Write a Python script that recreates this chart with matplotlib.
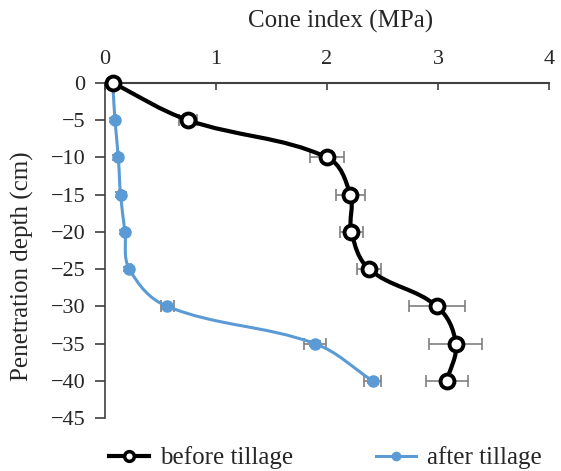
import numpy as np
import matplotlib
matplotlib.use('Agg')
from matplotlib import pyplot as plt
from matplotlib.path import Path
from matplotlib.patches import PathPatch
from matplotlib.lines import Line2D

plt.rcParams['font.family'] = ['Liberation Serif', 'DejaVu Serif']

# data
depth = [0, -5, -10, -15, -20, -25, -30, -35, -40]
before_ci = [0.07, 0.75, 2.00, 2.21, 2.22, 2.38, 2.99, 3.16, 3.08]
before_err = [0.02, 0.08, 0.15, 0.13, 0.10, 0.11, 0.25, 0.24, 0.19]
after_ci = [0.07, 0.09, 0.12, 0.14, 0.18, 0.22, 0.56, 1.89, 2.41]
after_err = [0.01, 0.01, 0.01, 0.01, 0.01, 0.01, 0.06, 0.10, 0.08]
depth_err = 0.5

black = '#000000'
blue = '#5B9BD5'
grey = '#7F7F7F'
text_c = '#262626'

# axes box in pixels: x 105..549, y 83..418
XSCALE = 444 / 4.0   # px per MPa
YSCALE = 335 / 45.0  # px per cm


def smooth_path(xs, ys, k=0.36):
    # smoothed line through the points; tangent = neighbour chord direction,
    # handle length ~ segment length (computed in pixel proportions)
    p = np.column_stack([np.asarray(xs, float) * XSCALE,
                         np.asarray(ys, float) * YSCALE])
    n = len(p)
    tang = []
    for i in range(n):
        d = p[min(i + 1, n - 1)] - p[max(i - 1, 0)]
        tang.append(d / np.hypot(*d))
    verts = [tuple(p[0])]
    codes = [Path.MOVETO]
    for i in range(n - 1):
        L = np.hypot(*(p[i + 1] - p[i]))
        c1 = p[i] + tang[i] * L * k
        c2 = p[i + 1] - tang[i + 1] * L * k
        verts += [tuple(c1), tuple(c2), tuple(p[i + 1])]
        codes += [Path.CURVE4] * 3
    verts = [(vx / XSCALE, vy / YSCALE) for vx, vy in verts]
    return Path(verts, codes)


fig = plt.figure(figsize=(5.61, 4.71), dpi=100)
ax = fig.add_axes([105 / 561, 1 - 418 / 471, 444 / 561, 335 / 471])

ax.set_xlim(0, 4)
ax.set_ylim(-45, 0)

ax.add_patch(PathPatch(smooth_path(after_ci, depth), fill=False, edgecolor=blue,
                       linewidth=2.2, zorder=3, clip_on=False))
ax.errorbar(after_ci, depth, xerr=after_err, yerr=depth_err * 0.6, fmt='none',
            ecolor=grey, elinewidth=1.2, capsize=4, capthick=1.2, zorder=2)
ax.plot(after_ci, depth, linestyle='none', marker='o', markersize=8,
        color=blue, zorder=4)

ax.add_patch(PathPatch(smooth_path(before_ci, depth), fill=False, edgecolor=black,
                       linewidth=3, zorder=5, clip_on=False))
ax.errorbar(before_ci, depth, xerr=before_err, yerr=depth_err, fmt='none',
            ecolor=grey, elinewidth=1.2, capsize=4, capthick=1.2, zorder=2)
ax.plot(before_ci, depth, linestyle='none', marker='o', markersize=10, clip_on=False,
        markerfacecolor='white', markeredgecolor=black, markeredgewidth=2.8, zorder=6)

ax.spines['bottom'].set_visible(False)
ax.spines['right'].set_visible(False)
ax.spines['top'].set_color('#404040')
ax.spines['left'].set_color('#404040')
ax.spines['top'].set_linewidth(1.5)
ax.spines['left'].set_linewidth(1.2)

ax.xaxis.tick_top()
ax.xaxis.set_label_position('top')
ax.set_xticks([0, 1, 2, 3, 4])
ax.set_yticks(np.arange(0, -45.1, -5))
ax.set_yticklabels(['0'] + ['\u2212%d' % v for v in range(5, 46, 5)])
ax.tick_params(axis='x', direction='in', length=5, width=1.2, color='#404040',
               labelsize=16, labelcolor=text_c, pad=10)
ax.tick_params(axis='y', direction='out', length=7, width=1.2, color='#404040',
               labelsize=16, labelcolor=text_c, pad=7)
ax.set_xlabel('Cone index (MPa)', fontsize=18, color=text_c)
ax.xaxis.set_label_coords(0.53, 1.165)
ax.set_ylabel('Penetration depth (cm)', fontsize=18, color=text_c)
ax.yaxis.set_label_coords(-0.16, 0.454)

handles = [
    Line2D([], [], color=black, linewidth=3, marker='o', markersize=7,
           markerfacecolor='white', markeredgecolor=black, markeredgewidth=2.5),
    Line2D([], [], color=blue, linewidth=2.2, marker='o', markersize=6),
]
fig.legend(handles, ['before tillage', 'after tillage'], loc='center left',
           bbox_to_anchor=(109 / 561, 1 - 458 / 471), ncol=2, frameon=False,
           fontsize=18, borderpad=0, borderaxespad=0, columnspacing=3.3,
           handlelength=1.6, handletextpad=0.45, labelcolor=text_c)

plt.savefig('out.png', dpi=100)
